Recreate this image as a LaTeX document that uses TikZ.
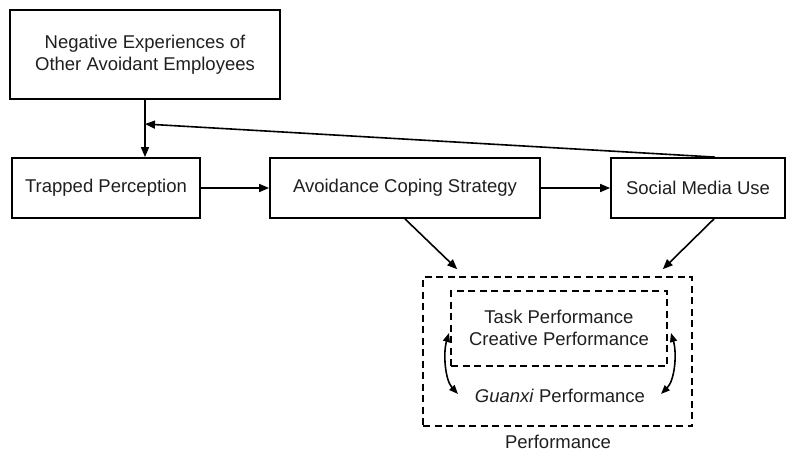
\documentclass[tikz,border=0pt]{standalone}
\usepackage{fontspec}
\setmainfont{Liberation Sans}
\usetikzlibrary{arrows.meta}
\begin{document}
\begin{tikzpicture}[x=1pt,y=-1pt,
  every node/.style={font=\fontsize{18.5}{22.5}\selectfont, text=black!88, align=center},
  box/.style={draw, line width=1.8pt, inner sep=0pt},
  dbox/.style={draw, line width=1.6pt, dash pattern=on 7pt off 4.5pt, inner sep=0pt},
  conn/.style={line width=1.6pt, -{Triangle[length=10pt,width=8pt]}},
  dconn/.style={line width=1.6pt, {Triangle[length=9pt,width=7pt]}-{Triangle[length=9pt,width=7pt]}}]
\useasboundingbox (0,0) rectangle (795,451);

% main boxes
\node[box, minimum width=270pt, minimum height=89pt] (neg) at (145,54.5)
  {Negative Experiences of\\Other Avoidant Employees};
\node[box, minimum width=188pt, minimum height=60pt] (trap) at (106,188) {Trapped Perception};
\node[box, minimum width=270pt, minimum height=60pt] (avoid) at (405,188) {Avoidance Coping Strategy};
\node[box, minimum width=174pt, minimum height=60pt] (social) at (698,188) {Social Media Use};

% performance group
\node[dbox, minimum width=269pt, minimum height=149pt] (outer) at (557.5,351.5) {};
\node[dbox, minimum width=216pt, minimum height=75pt] (inner) at (559,328.5) {};
\node (task) at (559,328) {Task Performance\\Creative Performance};
\node (guanxi) at (560,396) {\textit{Guanxi} Performance};
\node (perf) at (558,442) {Performance};

% connectors
\coordinate (fb) at (145,124);
\draw[conn] (neg.south) -- (neg.south |- trap.north);
\draw[conn] ([xshift=17pt]social.north) -- (fb);
\draw[conn] (trap.east) -- (avoid.west);
\draw[conn] (avoid.east) -- (social.west);
\draw[conn] (avoid.south) -- ([shift={(35pt,7pt)}]outer.north west);
\draw[conn] ([xshift=16pt]social.south) -- ([shift={(-30pt,7pt)}]outer.north east);

% reciprocal links between performance dimensions
\coordinate (l1) at (449,333);
\coordinate (l2) at (458,394);
\coordinate (r1) at (671,333);
\coordinate (r2) at (661,394);
\draw[dconn] (l1) .. controls (443,353) and (445,380) .. (l2);
\draw[dconn] (r1) .. controls (677,353) and (675,380) .. (r2);
\end{tikzpicture}
\end{document}
